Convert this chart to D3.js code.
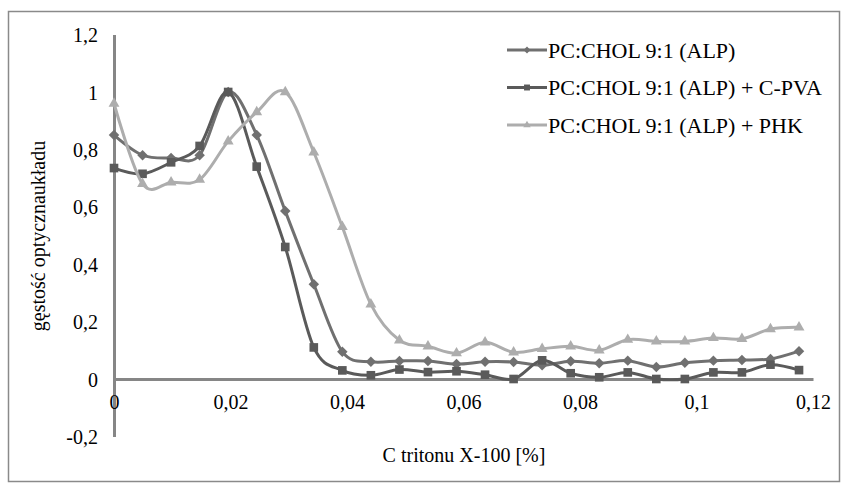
<!DOCTYPE html>
<html>
<head>
<meta charset="utf-8">
<script src="https://cdn.jsdelivr.net/npm/d3@7/dist/d3.min.js"></script>
<style>
  body { margin: 0; background: #fff; }
  svg text { font-family: "Liberation Serif", "Times New Roman", serif; fill: #000; }
</style>
</head>
<body>
<svg id="wykres" width="843" height="483"></svg>
<script>
"use strict"
// stężenie tritonu X-100 [%]
var stezenie = [0, 0.0049, 0.0098, 0.0147, 0.0196, 0.0245, 0.0294, 0.0343, 0.0392, 0.0441,
                0.049, 0.0539, 0.0588, 0.0637, 0.0686, 0.0735, 0.0784, 0.0833, 0.0882,
                0.0931, 0.098, 0.1029, 0.1078, 0.1127, 0.1176];

var alp = [0.85, 0.78, 0.77, 0.78, 1.0, 0.85, 0.585, 0.33, 0.095, 0.06, 0.063, 0.063, 0.052,
           0.06, 0.059, 0.048, 0.062, 0.055, 0.064, 0.042, 0.057, 0.064, 0.066, 0.07, 0.097];
var alpPva = [0.735, 0.715, 0.755, 0.812, 1.0, 0.74, 0.46, 0.11, 0.03, 0.013, 0.033, 0.024,
              0.027, 0.015, 0.0, 0.065, 0.02, 0.006, 0.023, 0.0, 0.0, 0.023, 0.023, 0.05, 0.031];
var alpPhk = [0.96, 0.68, 0.685, 0.695, 0.828, 0.93, 1.0, 0.79, 0.53, 0.26, 0.135, 0.114, 0.09,
              0.128, 0.093, 0.105, 0.114, 0.1, 0.137, 0.131, 0.131, 0.143, 0.14, 0.174, 0.18];

var nazwySerii = ["PC:CHOL 9:1 (ALP)", "PC:CHOL 9:1 (ALP) + C-PVA", "PC:CHOL 9:1 (ALP) + PHK"];

var xTicks = [0, 0.02, 0.04, 0.06, 0.08, 0.1, 0.12];
var xTickLabels = ["0", "0,02", "0,04", "0,06", "0,08", "0,1", "0,12"];
var yTicks = [-0.2, 0, 0.2, 0.4, 0.6, 0.8, 1, 1.2];
var yTickLabels = ["-0,2", "0", "0,2", "0,4", "0,6", "0,8", "1", "1,2"];

var svg = d3.select("svg#wykres");

var seria = [
  { nazwa: nazwySerii[0], wartosci: alp,    kolor: "#707070", znacznik: d3.symbolDiamond2, rozmiar: 70, leg: 30 },
  { nazwa: nazwySerii[1], wartosci: alpPva, kolor: "#5a5a5a", znacznik: d3.symbolSquare2,  rozmiar: 95, leg: 45 },
  { nazwa: nazwySerii[2], wartosci: alpPhk, kolor: "#adadad", znacznik: d3.symbolTriangle2, rozmiar: 85, leg: 40 }
];

var x = d3.scaleLinear().domain([0, 0.12]).range([114, 813]);
var y = d3.scaleLinear().domain([-0.2, 1.2]).range([436.4, 34.6]);

// ramka wykresu
svg.append("rect")
    .attr("x", 8.5).attr("y", 11.5)
    .attr("width", 831).attr("height", 470)
    .attr("fill", "none")
    .attr("stroke", "#8a8a8a")
    .attr("stroke-width", 1.5);

// oś Y
var osY = svg.append("g")
    .attr("transform", "translate(" + x(0) + ",0)")
    .call(d3.axisLeft(y).tickValues(yTicks).tickSize(0).tickPadding(16)
      .tickFormat(function(d, i) { return yTickLabels[i]; }));
osY.select(".domain").attr("stroke", "#868686").attr("stroke-width", 3);
osY.selectAll("text").attr("font-size", 20).attr("dy", "0.35em").style("fill", "#000");

// oś X
var osX = svg.append("g")
    .attr("transform", "translate(0," + y(0) + ")")
    .call(d3.axisBottom(x).tickValues(xTicks).tickSize(0).tickPadding(16)
      .tickFormat(function(d, i) { return xTickLabels[i]; }));
osX.select(".domain").attr("stroke", "#868686").attr("stroke-width", 3);
osX.selectAll("text").attr("font-size", 20).style("fill", "#000");

// tytuły osi
svg.append("text")
    .attr("transform", "translate(45," + 236 + ") rotate(-90)")
    .attr("text-anchor", "middle")
    .attr("font-size", 20)
    .text("gęstość optycznaukładu");

svg.append("text")
    .attr("x", 464).attr("y", 462)
    .attr("text-anchor", "middle")
    .attr("font-size", 20)
    .text("C tritonu X-100 [%]");

var linia = d3.line()
    .x(function(d, i) { return x(stezenie[i]); })
    .y(function(d) { return y(d); })
    .curve(d3.curveCatmullRom.alpha(0));

seria.forEach(function(s) {
  var g = svg.append("g");
  g.append("path")
      .datum(s.wartosci)
      .attr("d", linia)
      .attr("fill", "none")
      .attr("stroke", s.kolor)
      .attr("stroke-width", 3);
  g.selectAll("path.znak")
      .data(s.wartosci)
    .enter().append("path")
      .attr("class", "znak")
      .attr("transform", function(d, i) { return "translate(" + x(stezenie[i]) + "," + y(d) + ")"; })
      .attr("d", d3.symbol().type(s.znacznik).size(s.rozmiar))
      .attr("fill", s.kolor);
});

// legenda
var legenda = svg.append("g")
  .selectAll("g")
    .data(seria)
  .enter().append("g")
    .attr("transform", function(d, i) { return "translate(507," + (50 + i * 37.5) + ")"; });

legenda.append("line")
    .attr("x1", 0).attr("x2", 40)
    .attr("stroke", function(d) { return d.kolor; })
    .attr("stroke-width", 3);
legenda.append("path")
    .attr("transform", "translate(20,0)")
    .attr("d", function(d) { return d3.symbol().type(d.znacznik).size(d.leg)(); })
    .attr("fill", function(d) { return d.kolor; });
legenda.append("text")
    .attr("x", 41).attr("dy", "0.35em")
    .attr("font-size", 22)
    .text(function(d) { return d.nazwa; });
</script>
</body>
</html>
